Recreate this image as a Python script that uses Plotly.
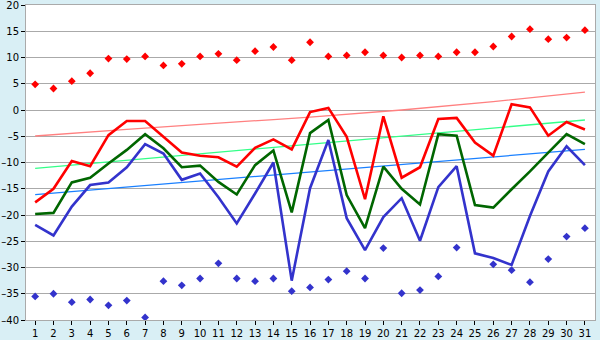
import plotly.graph_objects as go

days = list(range(1, 32))
tick_labels = [str(d) for d in days]
y_ticks = [-40, -35, -30, -25, -20, -15, -10, -5, 0, 5, 10, 15, 20]
y_tick_labels = ["–40", "–35", "–30", "–25", "–20", "–15", "–10", "–5", "0", "5", "10", "15", "20"]

max_temp = [-17.6, -15.0, -9.7, -10.7, -4.8, -2.1, -2.1, -5.1, -8.1, -8.7,
            -9.0, -10.8, -7.2, -5.6, -7.5, -0.4, 0.4, -5.1, -17.0, -1.2,
            -12.9, -10.9, -1.7, -1.5, -6.2, -8.7, 1.1, 0.5, -4.9, -2.3, -3.7]
mean_temp = [-19.8, -19.6, -13.8, -12.9, -10.2, -7.6, -4.6, -7.3, -10.9, -10.6,
             -13.7, -16.1, -10.5, -7.7, -19.5, -4.4, -1.9, -16.2, -22.5, -10.8,
             -15.0, -18.0, -4.6, -4.9, -18.1, -18.6, -15.1, -11.7, -8.1, -4.6, -6.5]
min_temp = [-21.9, -23.9, -18.4, -14.3, -13.8, -10.9, -6.5, -8.3, -13.3, -12.1,
            -16.6, -21.6, -15.9, -10.0, -32.5, -14.9, -5.7, -20.6, -26.7, -20.4,
            -16.8, -24.9, -14.7, -10.7, -27.3, -28.2, -29.5, -20.2, -11.7, -6.9, -10.5]
record_max = [4.9, 4.1, 5.5, 7.0, 9.8, 9.7, 10.2, 8.5, 8.8, 10.2,
              10.7, 9.5, 11.2, 12.0, 9.5, 12.9, 10.2, 10.4, 11.0, 10.4,
              10.0, 10.4, 10.2, 11.0, 11.0, 12.1, 14.0, 15.4, 13.5, 13.8, 15.2]
record_min = [-35.5, -35.0, -36.6, -36.1, -37.2, -36.3, -39.5, -32.6, -33.4, -32.1,
              -29.2, -32.1, -32.6, -32.1, -34.5, -33.8, -32.3, -30.7, -32.1, -26.3,
              -34.9, -34.3, -31.7, -26.2, None, -29.4, -30.5, -32.8, -28.4, -24.1, -22.5]

# trend lines
trend_max_days = [1, 6, 11, 16, 21, 26, 31]
trend_max_vals = [-4.95, -3.7, -2.5, -1.35, 0.0, 1.6, 3.4]
trend_mean_days = [1, 31]
trend_mean_vals = [-11.1, -1.9]
trend_min_days = [1, 31]
trend_min_vals = [-16.1, -7.5]

fig = go.Figure()

fig.add_trace(go.Scatter(x=trend_max_days, y=trend_max_vals, mode="lines",
                         line=dict(color="#ff8080", width=1.3, shape="spline")))
fig.add_trace(go.Scatter(x=trend_mean_days, y=trend_mean_vals, mode="lines",
                         line=dict(color="#33ff88", width=1.3)))
fig.add_trace(go.Scatter(x=trend_min_days, y=trend_min_vals, mode="lines",
                         line=dict(color="#1a80ff", width=1.3)))

fig.add_trace(go.Scatter(x=days, y=max_temp, mode="lines",
                         line=dict(color="#ff0000", width=2.6)))
fig.add_trace(go.Scatter(x=days, y=mean_temp, mode="lines",
                         line=dict(color="#006600", width=2.6)))
fig.add_trace(go.Scatter(x=days, y=min_temp, mode="lines",
                         line=dict(color="#3333cc", width=2.6)))

fig.add_trace(go.Scatter(x=days, y=record_max, mode="markers",
                         marker=dict(symbol="diamond", size=6, color="#ff0000")))
fig.add_trace(go.Scatter(x=days, y=record_min, mode="markers",
                         marker=dict(symbol="diamond", size=6, color="#3333cc")))

fig.update_layout(
    width=600, height=340,
    margin=dict(l=26, r=5, t=5, b=20),
    paper_bgcolor="#d9eff5",
    plot_bgcolor="#ffffff",
    showlegend=False,
    font=dict(family="DejaVu Sans", size=10, color="#000000"),
)
fig.update_xaxes(
    range=[0.5, 31.55], tickmode="array", tickvals=days, ticktext=tick_labels,
    showgrid=False, zeroline=False, showline=True, linecolor="#aaaaaa",
    linewidth=1, mirror=True, ticks="outside", ticklen=4, tickcolor="#000000",
    automargin=False, ticklabeloverflow="allow",
)
fig.update_yaxes(
    range=[-40, 20], tickmode="array", tickvals=y_ticks, ticktext=y_tick_labels,
    showgrid=True, gridcolor="#aaaaaa", gridwidth=1,
    zeroline=True, zerolinecolor="#aaaaaa", zerolinewidth=1,
    showline=True, linecolor="#aaaaaa", linewidth=1, mirror=True,
    ticks="outside", ticklen=4, tickcolor="#000000", automargin=False,
    ticklabeloverflow="allow",
)

fig.write_html("out.html", config={"displayModeBar": False},
               post_script="document.body.style.margin='0';document.body.style.overflow='hidden';")
